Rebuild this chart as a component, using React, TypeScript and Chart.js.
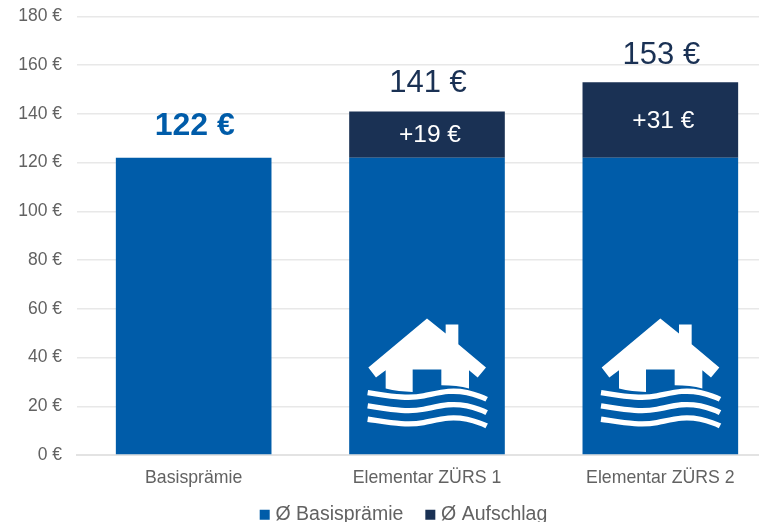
import React, { useEffect, useRef } from "react";
import { Chart, registerables } from "chart.js";

Chart.register(...registerables);

const categories = ["Basisprämie", "Elementar ZÜRS 1", "Elementar ZÜRS 2"];
const basisValues = [122, 122, 122];
const surchargeValues = [0, 19, 31];
const totalLabels = ["122 €", "141 €", "153 €"];
const surchargeLabels = ["", "+19 €", "+31 €"];
const iconOnBar = [false, true, true];

const BLUE = "#005CA9";
const NAVY = "#1A3154";
const TEXT = "#626262";
const FONT = "'Liberation Sans', Arial, sans-serif";
const totalLabelLift = [32, 28, 27];

const housePath =
  "M0 -407 L-176 -260 L-153 -230 L-124 -252 L-124 -197 Q-85 -187 -43 -187 L-43 -254 L43 -254 L43 -207 Q90 -207 126 -197 L126 -252 L152 -230 L177 -260 L94 -330 L94 -389 L56 -389 L56 -362 Z";
const wavePath = "M-178 -185 C-110 -175 -60 -165 -10 -175 C40 -185 70 -195 120 -185 C140 -180 160 -175 179 -165";

const barDecor = {
  id: "barDecor",
  afterDatasetsDraw(chart: any) {
    const { ctx } = chart;
    const base = chart.getDatasetMeta(0).data;
    const top = chart.getDatasetMeta(1).data;
    ctx.save();
    ctx.textAlign = "center";
    ctx.textBaseline = "middle";
    categories.forEach((_, i) => {
      const x = top[i].x;
      const yTop = top[i].y;
      ctx.font = i === 0 ? `bold 32px ${FONT}` : `31px ${FONT}`;
      ctx.fillStyle = i === 0 ? BLUE : NAVY;
      ctx.fillText(totalLabels[i], x + 1, yTop - totalLabelLift[i]);
      if (surchargeLabels[i]) {
        ctx.font = `24.5px ${FONT}`;
        ctx.fillStyle = "#ffffff";
        ctx.fillText(surchargeLabels[i], x + 3, (top[i].y + top[i].base) / 2 + 1);
      }
      if (iconOnBar[i]) {
        ctx.save();
        ctx.translate(x, base[i].base);
        ctx.scale(1 / 3, 1 / 3);
        ctx.fillStyle = "#ffffff";
        ctx.fill(new Path2D(housePath));
        ctx.strokeStyle = "#ffffff";
        ctx.lineWidth = 16;
        [0, 40, 80].forEach((dy) => {
          ctx.save();
          ctx.translate(0, dy);
          ctx.stroke(new Path2D(wavePath));
          ctx.restore();
        });
        ctx.restore();
      }
    });
    ctx.restore();
  },
};

const legendShift = {
  id: "legendShift",
  beforeDraw(chart: any) {
    if (!chart.legend.$shifted) {
      chart.legend.left += 17;
      chart.legend.right += 17;
      chart.legend.top -= 8;
      chart.legend.bottom -= 8;
      chart.legend.$shifted = true;
    }
  },
};

export default function App() {
  const ref = useRef<HTMLCanvasElement | null>(null);
  useEffect(() => {
    const chart = new Chart(ref.current as HTMLCanvasElement, {
      type: "bar",
      data: {
        labels: categories,
        datasets: [
          { label: "Ø Basisprämie", data: basisValues, backgroundColor: BLUE, stack: "s" },
          { label: "Ø Aufschlag", data: surchargeValues, backgroundColor: NAVY, stack: "s" },
        ],
      },
      options: {
        responsive: false,
        animation: false,
        layout: { padding: { top: 0, left: 0, right: 0, bottom: -20.5 } },
        datasets: { bar: { categoryPercentage: 1, barPercentage: 0.667 } },
        plugins: {
          tooltip: { enabled: false },
          legend: {
            position: "bottom",
            labels: {
              boxWidth: 2,
              boxHeight: 2,
              padding: 26,
              color: TEXT,
              font: { family: FONT, size: 19.5 },
              generateLabels(chart: any) {
                return Chart.defaults.plugins.legend.labels
                  .generateLabels(chart)
                  .map((l: any) => ({ ...l, lineWidth: 8, strokeStyle: l.fillStyle }));
              },
            },
          },
        },
        scales: {
          x: {
            stacked: true,
            grid: { display: false },
            border: { color: "#E3E3E3", width: 2 },
            ticks: { color: TEXT, font: { family: FONT, size: 17.7 }, padding: 4, maxRotation: 0 },
            afterFit(s: any) { s.height = 32; },
          },
          y: {
            stacked: true,
            min: 0,
            max: 180,
            grid: { color: "#E8E8E8", lineWidth: 1.5, drawTicks: false },
            border: { display: false },
            ticks: {
              stepSize: 20,
              padding: 15,
              color: TEXT,
              font: { family: FONT, size: 17.5 },
              callback: (v: any) => `${v} €`,
            },
            afterFit(s: any) { s.width = 77; },
          },
        },
      },
      plugins: [legendShift, barDecor],
    } as any);
    return () => chart.destroy();
  }, []);
  return (
    <div style={{ position: "fixed", left: 0, top: 0, width: 759, height: 522, overflow: "hidden", background: "#fff" }}>
      <canvas ref={ref} width={777} height={531} style={{ display: "block", marginTop: -9 }} />
    </div>
  );
}
